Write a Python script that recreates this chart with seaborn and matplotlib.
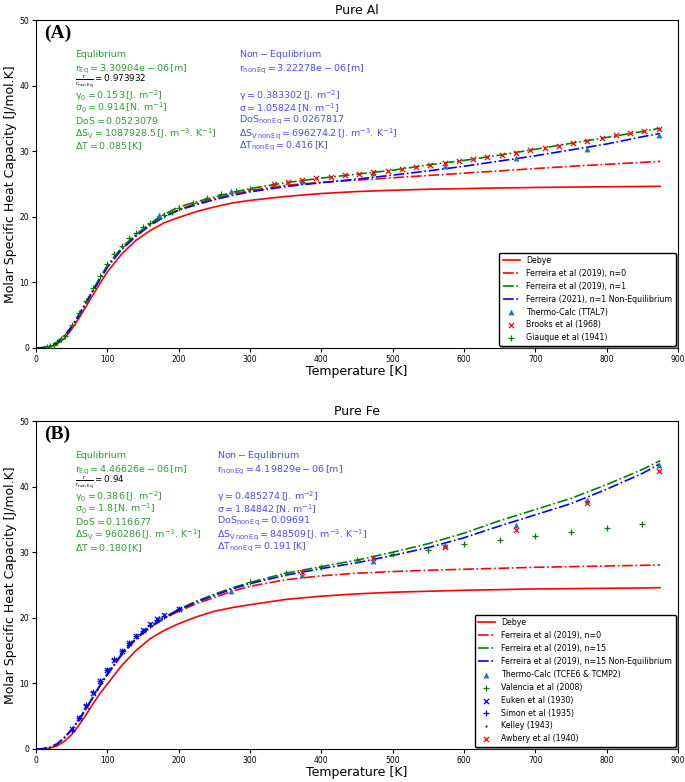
import matplotlib
matplotlib.use("Agg")
import matplotlib.pyplot as plt
import seaborn as sns

# ── temperature grid shared by the model curves ──────────────────────────────
T_grid = [0, 10, 20, 30, 40, 50, 60, 70, 80, 90, 100, 120, 140, 160, 180, 200, 225,
          250, 275, 300, 350, 400, 450, 500, 550, 600, 650, 700, 750, 800, 850, 875]

# ── Pure Al curves ────────────────────────────────────────────────────────────
al_debye = [0, 0.03, 0.2, 0.65, 1.5, 2.85, 4.5, 6.3, 8.1, 9.9, 11.6, 14.3, 16.4, 17.9,
            19.1, 19.9, 20.8, 21.5, 22.1, 22.5, 23.1, 23.55, 23.85, 24.05, 24.2, 24.3,
            24.4, 24.47, 24.53, 24.58, 24.62, 24.65]
al_n0 = [0, 0.05, 0.3, 0.9, 1.85, 3.25, 5.0, 6.9, 8.8, 10.7, 12.4, 15.2, 17.2, 18.8,
         20.1, 21.1, 22.05, 22.8, 23.45, 24.0, 24.8, 25.25, 25.6, 25.95, 26.3, 26.65,
         27.0, 27.35, 27.7, 28.0, 28.3, 28.45]
al_n1 = [0, 0.05, 0.3, 0.9, 1.9, 3.3, 5.1, 7.0, 8.9, 10.8, 12.6, 15.3, 17.3, 19.0,
         20.4, 21.5, 22.3, 23.0, 23.7, 24.3, 25.2, 25.9, 26.5, 27.1, 27.9, 28.6, 29.4,
         30.3, 31.2, 32.1, 33.0, 33.5]
al_noneq = [0, 0.05, 0.28, 0.85, 1.8, 3.2, 4.9, 6.8, 8.7, 10.5, 12.3, 15.0, 17.0, 18.7,
            20.0, 21.0, 21.85, 22.6, 23.25, 23.8, 24.6, 25.2, 25.75, 26.35, 27.0, 27.7,
            28.5, 29.3, 30.2, 31.1, 32.2, 32.7]

al_tc_T = [173, 273, 373, 473, 573, 673, 773, 873]
al_tc_cp = [20.2, 23.9, 25.4, 26.7, 27.8, 28.9, 30.4, 32.5]
al_brooks_T = [333, 353, 373, 393, 413, 433, 453, 473, 493, 513, 533, 553, 573, 593,
               613, 633, 653, 673, 693, 713, 733, 753, 773, 793, 813, 833, 853, 873]
al_brooks_cp = [25.0, 25.3, 25.6, 25.85, 26.05, 26.3, 26.55, 26.8, 27.05, 27.3, 27.6,
                27.95, 28.25, 28.5, 28.8, 29.1, 29.45, 29.8, 30.15, 30.5, 30.85, 31.25,
                31.6, 32.0, 32.4, 32.8, 33.1, 33.4]
al_giauque_T = [15, 20, 25, 30, 35, 40, 50, 60, 70, 80, 90, 100, 110, 120, 130, 140,
                150, 160, 170, 180, 190, 200, 220, 240, 260, 280, 300]
al_giauque_cp = [0.15, 0.25, 0.5, 0.85, 1.3, 1.9, 3.5, 5.3, 7.2, 9.1, 11.0, 12.8, 14.3,
                 15.6, 16.7, 17.6, 18.4, 19.1, 19.7, 20.3, 20.8, 21.3, 22.1, 22.8,
                 23.4, 23.9, 24.3]

# ── Pure Fe curves ────────────────────────────────────────────────────────────
fe_debye = [0, 0.02, 0.15, 0.5, 1.2, 2.2, 3.6, 5.2, 6.9, 8.5, 9.9, 12.7, 15.0, 16.8,
            18.1, 19.1, 20.15, 21.0, 21.55, 22.0, 22.8, 23.3, 23.65, 23.9, 24.05, 24.2,
            24.3, 24.4, 24.45, 24.5, 24.55, 24.6]
fe_n0 = [0, 0.05, 0.25, 0.8, 1.75, 2.95, 4.4, 6.1, 7.9, 9.7, 11.3, 14.3, 16.7, 18.5,
         19.9, 21.0, 22.15, 23.1, 24.05, 24.8, 25.8, 26.4, 26.8, 27.05, 27.25, 27.4,
         27.55, 27.7, 27.8, 27.9, 28.0, 28.05]
fe_n15 = [0, 0.05, 0.25, 0.8, 1.8, 3.0, 4.5, 6.2, 8.0, 9.8, 11.5, 14.5, 16.9, 18.7,
          20.1, 21.3, 22.55, 23.6, 24.55, 25.4, 26.8, 27.8, 28.8, 30.0, 31.3, 32.9,
          34.8, 36.5, 38.2, 40.3, 42.6, 43.95]
fe_noneq = [0, 0.05, 0.25, 0.8, 1.75, 2.95, 4.4, 6.1, 7.9, 9.7, 11.4, 14.4, 16.8, 18.6,
            20.0, 21.2, 22.4, 23.4, 24.4, 25.2, 26.5, 27.5, 28.4, 29.5, 30.7, 32.2,
            34.0, 35.7, 37.4, 39.6, 42.0, 43.5]

fe_tc_T = [173, 273, 373, 473, 573, 673, 773, 873]
fe_tc_cp = [19.9, 24.1, 26.5, 28.7, 31.1, 34.1, 37.96, 43.3]
fe_valencia_T = [300, 350, 400, 450, 500, 550, 600, 650, 700, 750, 800, 850]
fe_valencia_cp = [25.5, 26.8, 27.8, 28.8, 29.7, 30.4, 31.2, 31.9, 32.5, 33.1, 33.7, 34.25]
fe_lowT = [50, 60, 70, 80, 90, 100, 110, 120, 130, 140, 150, 160, 170, 180, 200]
fe_euken_cp = [3.0, 4.8, 6.6, 8.6, 10.4, 12.0, 13.6, 14.9, 16.2, 17.3, 18.1, 19.0, 19.8, 20.4, 21.4]
fe_simon_cp = [2.9, 4.7, 6.7, 8.7, 10.4, 12.0, 13.7, 14.9, 16.1, 17.2, 18.0, 18.95, 19.7, 20.3, 21.4]
fe_kelley_cp = [2.9, 4.7, 6.6, 8.6, 10.3, 11.9, 13.6, 14.8, 16.1, 17.2, 18.0, 18.9, 19.7, 20.3, 21.3]
fe_awbery_T = [373, 473, 573, 673, 773, 873]
fe_awbery_cp = [27.0, 29.07, 30.8, 33.4, 37.5, 42.4]

# ── annotation texts ──────────────────────────────────────────────────────────
al_eq_text = ["Equlibrium",
              r"$\mathrm{r_{Eq} = 3.30904e-06\,[m]}$",
              r"$\mathrm{\frac{r}{r_{non\,Eq}} = 0.973932}$",
              r"$\mathrm{\gamma_0 = 0.153\,[J.\,m^{-2}]}$",
              r"$\mathrm{\sigma_0 = 0.914\,[N.\,m^{-1}]}$",
              r"$\mathrm{DoS = 0.0523079}$",
              r"$\mathrm{\Delta S_V = 1087928.5\,[J.\,m^{-3}.\,K^{-1}]}$",
              r"$\mathrm{\Delta T = 0.085\,[K]}$"]
al_neq_text = [r"$\mathrm{Non-Equlibrium}$",
               r"$\mathrm{r_{non\,Eq} = 3.22278e-06\,[m]}$",
               "",
               r"$\mathrm{\gamma = 0.383302\,[J.\,m^{-2}]}$",
               r"$\mathrm{\sigma = 1.05824\,[N.\,m^{-1}]}$",
               r"$\mathrm{DoS_{non\,Eq} = 0.0267817}$",
               r"$\mathrm{\Delta S_{V\,non\,Eq} = 696274.2\,[J.\,m^{-3}.\,K^{-1}]}$",
               r"$\mathrm{\Delta T_{non\,Eq} = 0.416\,[K]}$"]
fe_eq_text = ["Equlibrium",
              r"$\mathrm{r_{Eq} = 4.46626e-06\,[m]}$",
              r"$\mathrm{\frac{r}{r_{non\,Eq}} = 0.94}$",
              r"$\mathrm{\gamma_0 = 0.386\,[J.\,m^{-2}]}$",
              r"$\mathrm{\sigma_0 = 1.8\,[N.\,m^{-1}]}$",
              r"$\mathrm{DoS = 0.116677}$",
              r"$\mathrm{\Delta S_V = 960286\,[J.\,m^{-3}.\,K^{-1}]}$",
              r"$\mathrm{\Delta T = 0.180\,[K]}$"]
fe_neq_text = [r"$\mathrm{Non-Equlibrium}$",
               r"$\mathrm{r_{non\,Eq} = 4.19829e-06\,[m]}$",
               "",
               r"$\mathrm{\gamma = 0.485274\,[J.\,m^{-2}]}$",
               r"$\mathrm{\sigma = 1.84842\,[N.\,m^{-1}]}$",
               r"$\mathrm{DoS_{non\,Eq} = 0.09691}$",
               r"$\mathrm{\Delta S_{V\,non\,Eq} = 848509\,[J.\,m^{-3}.\,K^{-1}]}$",
               r"$\mathrm{\Delta T_{non\,Eq} = 0.191\,[K]}$"]
text_y = [44.7, 42.5, 40.6, 38.5, 36.6, 34.7, 32.7, 30.7]

GREEN_TXT = "#2ca02c"
BLUE_TXT = "#4a4aff"
FS = 6.8


def curve(ax, y, color, ls, label):
    sns.lineplot(x=T_grid, y=y, ax=ax, color=color, linestyle=ls, lw=1.2,
                 label=label, sort=False, estimator=None)


def points(ax, x, y, color, marker, label, s=14, lw=0.9):
    sns.scatterplot(x=x, y=y, ax=ax, color=color, marker=marker, s=s,
                    linewidth=lw, label=label, zorder=3)


def annotate(ax, eq, neq, x_eq, x_neq):
    for i, (a, b) in enumerate(zip(eq, neq)):
        ax.text(x_eq, text_y[i], a, color="black" if i == 2 else GREEN_TXT,
                fontsize=FS if i != 2 else 6.3, va="center")
        if b:
            ax.text(x_neq, text_y[i], b, color=BLUE_TXT, fontsize=FS, va="center")


def finish(ax, title, tag):
    ax.set_xlim(0, 900)
    ax.set_ylim(0, 50)
    ax.set_xticks(range(0, 901, 100))
    ax.set_yticks(range(0, 51, 10))
    ax.tick_params(labelsize=5.5, length=3, pad=2)
    ax.set_title(title, fontsize=9, pad=4)
    ax.set_xlabel("Temperature [K]", fontsize=9, labelpad=1)
    ax.set_ylabel("Molar Specific Heat Capacity [J/mol.K]", fontsize=9, labelpad=2)
    ax.text(0.012, 0.985, tag, transform=ax.transAxes, fontsize=14, va="top",
            fontweight="bold", family=["Liberation Serif", "DejaVu Serif"])
    ax.legend(loc="lower right", fontsize=5.7, shadow=True, framealpha=1,
              edgecolor="black", borderaxespad=0.3, handlelength=2.2)


fig = plt.figure(figsize=(6.85, 7.82), dpi=100)
ax1 = fig.add_axes([0.0526, 0.555, 0.937, 0.4194])
ax2 = fig.add_axes([0.0526, 0.0422, 0.937, 0.4194])

# ── (A) Pure Al ──
curve(ax1, al_debye, "red", "-", "Debye")
curve(ax1, al_n0, "red", "-.", "Ferreira et al (2019), n=0")
curve(ax1, al_n1, "green", "-.", "Ferreira et al (2019), n=1")
curve(ax1, al_noneq, "blue", "-.", "Ferreira (2021), n=1 Non-Equilibrium")
points(ax1, al_tc_T, al_tc_cp, "#1f77b4", "^", "Thermo-Calc (TTAL7)", s=18, lw=0)
points(ax1, al_brooks_T, al_brooks_cp, "red", "x", "Brooks et al (1968)")
points(ax1, al_giauque_T, al_giauque_cp, "green", "+", "Giauque et al (1941)")
annotate(ax1, al_eq_text, al_neq_text, 55, 285)
finish(ax1, "Pure Al", "(A)")

# ── (B) Pure Fe ──
curve(ax2, fe_debye, "red", "-", "Debye")
curve(ax2, fe_n0, "red", "-.", "Ferreira et al (2019), n=0")
curve(ax2, fe_n15, "green", "-.", "Ferreira et al (2019), n=15")
curve(ax2, fe_noneq, "blue", "-.", "Ferreira et al (2019), n=15 Non-Equilibrium")
points(ax2, fe_tc_T, fe_tc_cp, "#1f77b4", "^", "Thermo-Calc (TCFE6 & TCMP2)", s=18, lw=0)
points(ax2, fe_valencia_T, fe_valencia_cp, "green", "+", "Valencia et al (2008)")
points(ax2, fe_lowT, fe_euken_cp, "blue", "x", "Euken et al (1930)")
points(ax2, fe_lowT, fe_simon_cp, "blue", "+", "Simon et al (1935)")
points(ax2, fe_lowT, fe_kelley_cp, "blue", ".", "Kelley (1943)", s=10, lw=0)
points(ax2, fe_awbery_T, fe_awbery_cp, "red", "x", "Awbery et al (1940)")
annotate(ax2, fe_eq_text, fe_neq_text, 55, 254)
finish(ax2, "Pure Fe", "(B)")

fig.savefig("out.png", dpi=100)
